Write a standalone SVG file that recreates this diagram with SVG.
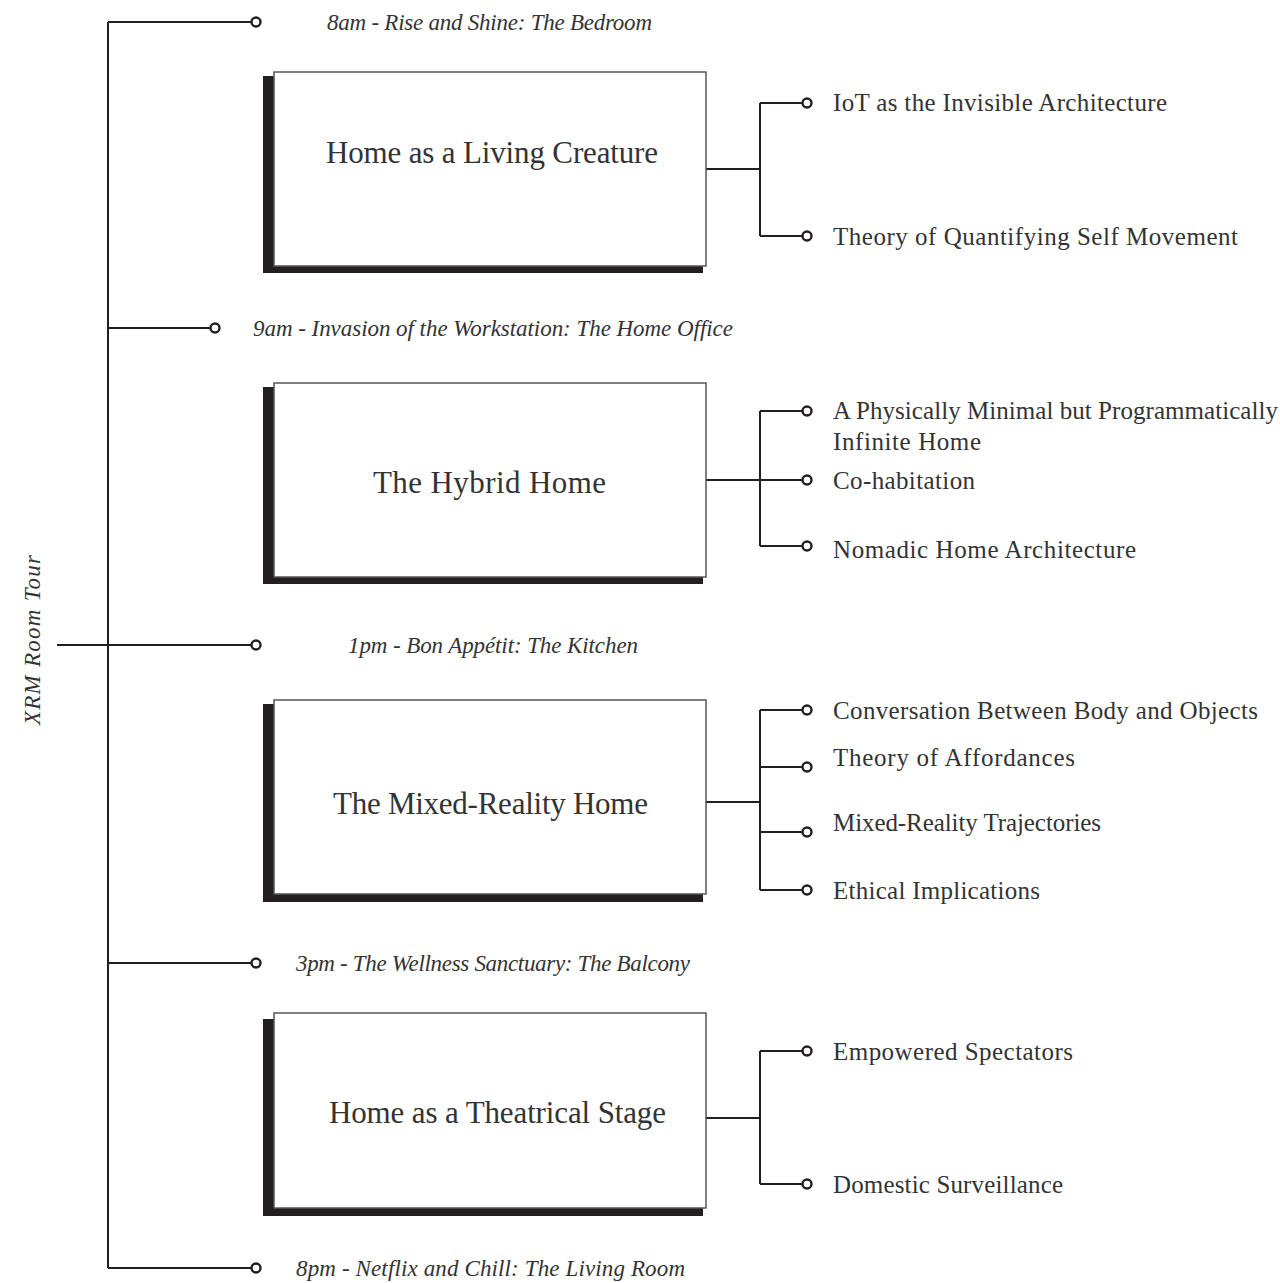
<svg xmlns="http://www.w3.org/2000/svg" width="1280" height="1283" viewBox="0 0 1280 1283">
<style>
.ln{fill:none;stroke:#231f20;stroke-width:2}
.dot{fill:#fff;stroke:#231f20;stroke-width:2.4}
.sh{fill:#231f20}
.bx{fill:#fff;stroke:#555;stroke-width:1.5}
.tt{font-family:"Liberation Serif",serif;font-size:31px;fill:#333}
.it{font-family:"Liberation Serif",serif;font-style:italic;font-size:23px;fill:#333}
.ch{font-family:"Liberation Serif",serif;font-size:25px;fill:#333}
</style>
<rect width="1280" height="1283" fill="#fff"/>
<g id="connectors">
<path class="ln" d="M108 22V1268"/>
<path class="ln" d="M108 22H252M108 328H211M57 645H252M108 963H252M108 1268H252"/>
<path class="ln" d="M706 169H760M760 103V236M760 103H803M760 236H803"/>
<path class="ln" d="M706 480H760M760 411V546M760 411H803M760 480H803M760 546H803"/>
<path class="ln" d="M706 802H760M760 710V890M760 710H803M760 767H803M760 832H803M760 890H803"/>
<path class="ln" d="M706 1118H760M760 1051V1184M760 1051H803M760 1184H803"/>
<circle class="dot" cx="256" cy="22" r="4.5"/>
<circle class="dot" cx="215" cy="328" r="4.5"/>
<circle class="dot" cx="256" cy="645" r="4.5"/>
<circle class="dot" cx="256" cy="963" r="4.5"/>
<circle class="dot" cx="256" cy="1268" r="4.5"/>
<circle class="dot" cx="807" cy="103" r="4.5"/>
<circle class="dot" cx="807" cy="236" r="4.5"/>
<circle class="dot" cx="807" cy="411" r="4.5"/>
<circle class="dot" cx="807" cy="480" r="4.5"/>
<circle class="dot" cx="807" cy="546" r="4.5"/>
<circle class="dot" cx="807" cy="710" r="4.5"/>
<circle class="dot" cx="807" cy="767" r="4.5"/>
<circle class="dot" cx="807" cy="832" r="4.5"/>
<circle class="dot" cx="807" cy="890" r="4.5"/>
<circle class="dot" cx="807" cy="1051" r="4.5"/>
<circle class="dot" cx="807" cy="1184" r="4.5"/>
</g>
<g id="root">
<text class="it" transform="translate(40,640) rotate(-90)" x="-85" y="0" textLength="170" lengthAdjust="spacing">XRM Room Tour</text>
</g>
<g id="time-labels">
<text class="it" x="327" y="30" textLength="325" lengthAdjust="spacing">8am - Rise and Shine: The Bedroom</text>
<text class="it" x="253" y="336" textLength="480" lengthAdjust="spacing">9am - Invasion of  the Workstation: The Home Office</text>
<text class="it" x="348" y="653" textLength="290" lengthAdjust="spacing">1pm - Bon Appétit: The Kitchen</text>
<text class="it" x="296" y="971" textLength="394" lengthAdjust="spacing">3pm - The Wellness Sanctuary: The Balcony</text>
<text class="it" x="296" y="1276" textLength="389" lengthAdjust="spacing">8pm - Netflix and Chill: The Living Room</text>
</g>
<g id="node-living">
<rect class="sh" x="263" y="76" width="440" height="197"/>
<rect class="bx" x="274" y="72" width="432" height="194"/>
<text class="tt" x="326" y="163" textLength="332" lengthAdjust="spacing">Home as a Living Creature</text>
</g>
<g id="node-hybrid">
<rect class="sh" x="263" y="387" width="440" height="197"/>
<rect class="bx" x="274" y="383" width="432" height="194"/>
<text class="tt" x="373" y="493" textLength="233" lengthAdjust="spacing">The Hybrid Home</text>
</g>
<g id="node-mixed">
<rect class="sh" x="263" y="704" width="440" height="198"/>
<rect class="bx" x="274" y="700" width="432" height="194"/>
<text class="tt" x="333" y="814" textLength="315" lengthAdjust="spacing">The Mixed-Reality Home</text>
</g>
<g id="node-theatre">
<rect class="sh" x="263" y="1019" width="440" height="197"/>
<rect class="bx" x="274" y="1013" width="432" height="195"/>
<text class="tt" x="329" y="1123" textLength="337" lengthAdjust="spacing">Home as a Theatrical Stage</text>
</g>
<g id="children">
<text class="ch" x="833" y="111" textLength="334" lengthAdjust="spacing">IoT as the Invisible Architecture</text>
<text class="ch" x="833" y="245" textLength="405" lengthAdjust="spacing">Theory of  Quantifying Self  Movement</text>
<text class="ch" x="833" y="419" textLength="445" lengthAdjust="spacing">A Physically Minimal but Programmatically</text>
<text class="ch" x="833" y="450" textLength="148" lengthAdjust="spacing">Infinite Home</text>
<text class="ch" x="833" y="489" textLength="142" lengthAdjust="spacing">Co-habitation</text>
<text class="ch" x="833" y="558" textLength="303" lengthAdjust="spacing">Nomadic Home Architecture</text>
<text class="ch" x="833" y="719" textLength="425" lengthAdjust="spacing">Conversation Between Body and Objects</text>
<text class="ch" x="833" y="766" textLength="242" lengthAdjust="spacing">Theory of  Affordances</text>
<text class="ch" x="833" y="831" textLength="268" lengthAdjust="spacing">Mixed-Reality Trajectories</text>
<text class="ch" x="833" y="899" textLength="207" lengthAdjust="spacing">Ethical Implications</text>
<text class="ch" x="833" y="1060" textLength="240" lengthAdjust="spacing">Empowered Spectators</text>
<text class="ch" x="833" y="1193" textLength="230" lengthAdjust="spacing">Domestic Surveillance</text>
</g>
</svg>
